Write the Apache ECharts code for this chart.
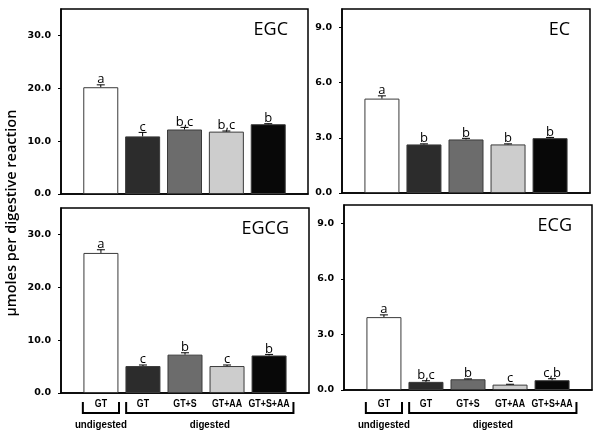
<!DOCTYPE html>
<html><head><meta charset="utf-8">
<script src="https://cdn.jsdelivr.net/npm/echarts@6/dist/echarts.min.js"></script>
<style>html,body{margin:0;padding:0;background:#fff}#c{width:600px;height:435px}</style>
</head><body><div id="c"></div>
<script>
// ---- data ----
const categories = ['GT', 'GT', 'GT+S', 'GT+AA', 'GT+S+AA'];
const groupNames = ['undigested', 'digested'];
const groupFirst = [0, 1];
const groupLast = [0, 4];

const egcValues = [20.2, 10.9, 12.2, 11.8, 13.2];
const egcErrors = [0.45, 0.75, 0.4, 0.12, 0.1];
const egcLetters = ['a', 'c', 'b,c', 'b,c', 'b'];

const ecValues = [5.13, 2.64, 2.91, 2.64, 2.98];
const ecErrors = [0.15, 0.03, 0.06, 0.03, 0.04];
const ecLetters = ['a', 'b', 'b', 'b', 'b'];

const egcgValues = [26.5, 5.1, 7.26, 5.1, 7.1];
const egcgErrors = [0.6, 0.2, 0.35, 0.2, 0.2];
const egcgLetters = ['a', 'c', 'b', 'c', 'b'];

const ecgValues = [3.94, 0.44, 0.58, 0.29, 0.53];
const ecgErrors = [0.12, 0.06, 0.02, 0.02, 0.08];
const ecgLetters = ['a', 'b,c', 'b', 'c', 'c,b'];

const ticksLarge = [0, 10, 20, 30];
const ticksSmall = [0, 3, 6, 9];

const yName = 'µmoles per digestive reaction';

// ---- styling / layout ----
const barColors = ['#ffffff', '#2c2c2c', '#6c6c6c', '#cdcdcd', '#080808'];
const bracketPadLeft = [0.43, 0.4];
const bracketPadRight = [0.43, 0.58];
const panels = [
  {title: 'EGC', values: egcValues, errors: egcErrors, letters: egcLetters, max: 35, ticks: ticksLarge,
   grid: {left: 61, top: 9, width: 247, height: 185}, bottom: false},
  {title: 'EC', values: ecValues, errors: ecErrors, letters: ecLetters, max: 10, ticks: ticksSmall,
   grid: {left: 342, top: 9, width: 248, height: 184}, bottom: false},
  {title: 'EGCG', values: egcgValues, errors: egcgErrors, letters: egcgLetters, max: 35, ticks: ticksLarge,
   grid: {left: 61, top: 208, width: 248, height: 185}, bottom: true},
  {title: 'ECG', values: ecgValues, errors: ecgErrors, letters: ecgLetters, max: 10, ticks: ticksSmall,
   grid: {left: 344, top: 205, width: 248, height: 185}, bottom: true}
];
const LABEL_Y = 404;
const XMIN = -0.95, XMAX = 4.95;

const chart = echarts.init(document.getElementById('c'), null, {renderer: 'canvas'});
const grids = [], xAxes = [], yAxes = [], series = [], graphics = [];

panels.forEach((p, i) => {
  grids.push(Object.assign({show: true, borderColor: '#000', borderWidth: 1.5, backgroundColor: 'transparent'}, p.grid));
  xAxes.push({
    gridIndex: i, type: 'value', min: XMIN, max: XMAX,
    splitLine: {show: false},
    axisLine: {show: true, onZero: false, lineStyle: {color: '#000', width: 1.5}},
    axisTick: {show: false},
    axisLabel: {show: false}
  });
  yAxes.push({
    gridIndex: i, type: 'value', min: 0, max: p.max,
    splitLine: {show: false},
    axisLine: {show: true, onZero: false, lineStyle: {color: '#000', width: 1.5}},
    axisTick: {show: true, inside: false, length: 3, customValues: p.ticks, lineStyle: {color: '#000', width: 1}},
    axisLabel: {
      customValues: p.ticks, formatter: v => Number(v).toFixed(1),
      fontFamily: 'DejaVu Sans', fontWeight: 'bold', fontSize: 9.5, color: '#000', margin: 10
    }
  });
  series.push({
    type: 'bar', xAxisIndex: i, yAxisIndex: i, barWidth: 35, animation: false,
    data: p.values.map((v, k) => ({value: [k, v], itemStyle: {color: barColors[k]}})),
    itemStyle: {borderColor: '#3a3a3a', borderWidth: 1}
  });
  series.push({
    type: 'custom', xAxisIndex: i, yAxisIndex: i, animation: false, z: 5,
    data: p.values.map((v, k) => [k, v, p.errors[k]]),
    renderItem: function (params, api) {
      const k = api.value(0), v = api.value(1), e = api.value(2);
      const base = api.coord([k, v]);
      const top = api.coord([k, v + e]);
      return {type: 'group', children: [
        {type: 'line', shape: {x1: base[0], y1: base[1], x2: top[0], y2: top[1]}, style: {stroke: '#000', lineWidth: 1}},
        {type: 'line', shape: {x1: top[0] - 4, y1: top[1], x2: top[0] + 4, y2: top[1]}, style: {stroke: '#000', lineWidth: 1}},
        {type: 'text', x: top[0], y: top[1] + 1, style: {
          text: p.letters[params.dataIndex], fontFamily: 'Open Sans', fontSize: 13, fill: '#000',
          align: 'center', verticalAlign: 'bottom'}}
      ]};
    }
  });
  graphics.push({
    type: 'text', x: p.grid.left + p.grid.width - 20, y: p.grid.top + 12,
    style: {text: p.title, fontFamily: 'Open Sans', fontSize: 18, fill: '#000', align: 'right', verticalAlign: 'top'}
  });
});

graphics.push({
  type: 'text', x: 12, y: 213, rotation: Math.PI / 2,
  style: {text: yName, fontFamily: 'Open Sans', fontWeight: 600, fontSize: 14.5, fill: '#000', align: 'center', verticalAlign: 'middle'}
});

chart.setOption({
  animation: false,
  backgroundColor: '#fff',
  grid: grids, xAxis: xAxes, yAxis: yAxes, series: series, graphic: graphics
});

// category labels and group brackets, positioned through the axes
const extra = graphics.slice();
panels.forEach((p, i) => {
  if (!p.bottom) return;
  categories.forEach((c, k) => {
    const x = chart.convertToPixel({gridIndex: i}, [k, 0])[0];
    extra.push({
      type: 'text', x: x, y: LABEL_Y, scaleX: 0.84, scaleY: 1,
      style: {text: c, fontFamily: 'Liberation Sans', fontWeight: 'bold', fontSize: 10.5, fill: '#000', align: 'center', verticalAlign: 'middle'}
    });
  });
  groupNames.forEach((name, g) => {
    const xa = chart.convertToPixel({gridIndex: i}, [groupFirst[g] - bracketPadLeft[g], 0])[0];
    const xb = chart.convertToPixel({gridIndex: i}, [groupLast[g] + bracketPadRight[g], 0])[0];
    const yTop = 402, yBot = 413;
    extra.push({
      type: 'polyline', shape: {points: [[xa, yTop], [xa, yBot], [xb, yBot], [xb, yTop]]},
      style: {stroke: '#000', lineWidth: 2, fill: null}
    });
    extra.push({
      type: 'text', x: (xa + xb) / 2, y: 425, scaleX: 0.93,
      style: {text: name, fontFamily: 'Liberation Sans', fontWeight: 'bold', fontSize: 10.5, fill: '#000', align: 'center', verticalAlign: 'middle'}
    });
  });
});
chart.setOption({graphic: extra}, {replaceMerge: ['graphic']});
</script>
</body></html>
